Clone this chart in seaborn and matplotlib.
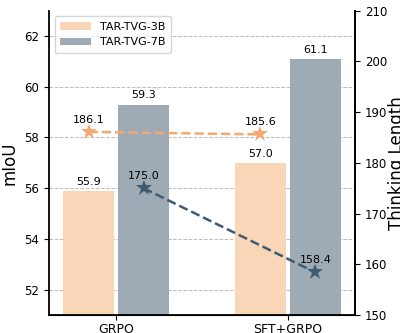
import matplotlib
matplotlib.use("Agg")
import matplotlib.pyplot as plt
import seaborn as sns
import pandas as pd

methods = ["GRPO", "SFT+GRPO"]
models = ["TAR-TVG-3B", "TAR-TVG-7B"]
miou_3b = [55.9, 57.0]
miou_7b = [59.3, 61.1]
think_3b = [186.1, 185.6]
think_7b = [175.0, 158.4]

bar_colors = {"TAR-TVG-3B": "#F9D6B8", "TAR-TVG-7B": "#9EABB4"}
line_colors = {"TAR-TVG-3B": "#F6A873", "TAR-TVG-7B": "#3F5B72"}

df = pd.DataFrame({
    "Method": methods * 2,
    "Model": [models[0]] * 2 + [models[1]] * 2,
    "mIoU": miou_3b + miou_7b,
})

plt.rcParams["font.family"] = ["DejaVu Sans"]
fig, ax = plt.subplots(figsize=(4.0, 3.33), dpi=100)
fig.subplots_adjust(left=0.1225, right=0.8875, top=0.968, bottom=0.054)

sns.barplot(data=df, x="Method", y="mIoU", hue="Model", order=methods,
            hue_order=models, palette=bar_colors, width=0.64, gap=0.06,
            saturation=1, ax=ax, zorder=2)
ax.set_ylim(51, 63)
ax.set_yticks([52, 54, 56, 58, 60, 62])
ax.set_xlim(-0.39, 1.39)
ax.set_xlabel("")
ax.set_ylabel("mIoU", fontsize=12, labelpad=4)
ax.yaxis.grid(True, linestyle="--", color="#bbbbbb", linewidth=0.7, zorder=0)
ax.set_axisbelow(True)
ax.tick_params(labelsize=8.5)
ax.tick_params(axis="x", labelsize=9, pad=2.5)
for s in ["left", "bottom", "right"]:
    ax.spines[s].set_linewidth(1.3)
ax.spines["top"].set_visible(False)

# bar centers and labels
centers = {}
vals = {models[0]: miou_3b, models[1]: miou_7b}
for cont, m in zip(ax.containers, models):
    cs = []
    for rect, v in zip(cont, vals[m]):
        cx = rect.get_x() + rect.get_width() / 2
        cs.append(cx)
        ax.annotate(f"{v:.1f}", (cx, v), xytext=(0, 3), textcoords="offset points",
                    ha="center", va="bottom", fontsize=8)
    centers[m] = cs

leg = ax.legend(loc="upper left", fontsize=8, frameon=True, handlelength=2.8,
                borderpad=0.5, labelspacing=0.5)
leg.get_frame().set_edgecolor("#cccccc")

ax2 = ax.twinx()
thinks = {models[0]: think_3b, models[1]: think_7b}
for m in models:
    sns.lineplot(x=centers[m], y=thinks[m], ax=ax2, color=line_colors[m],
                 linestyle="--", linewidth=1.8, marker="*", markersize=12,
                 markeredgewidth=0, zorder=3, legend=False)
    for cx, v in zip(centers[m], thinks[m]):
        ax2.annotate(f"{v:.1f}", (cx, v), xytext=(0, 5), textcoords="offset points",
                     ha="center", va="bottom", fontsize=8)
ax2.set_ylim(150, 210)
ax2.set_yticks([150, 160, 170, 180, 190, 200, 210])
ax2.set_ylabel("Thinking Length", fontsize=12, labelpad=1)
ax2.tick_params(labelsize=8.5)
ax2.spines["top"].set_visible(False)
ax2.spines["right"].set_linewidth(1.3)
ax2.spines["left"].set_visible(False)

fig.savefig("out.png", dpi=100)
